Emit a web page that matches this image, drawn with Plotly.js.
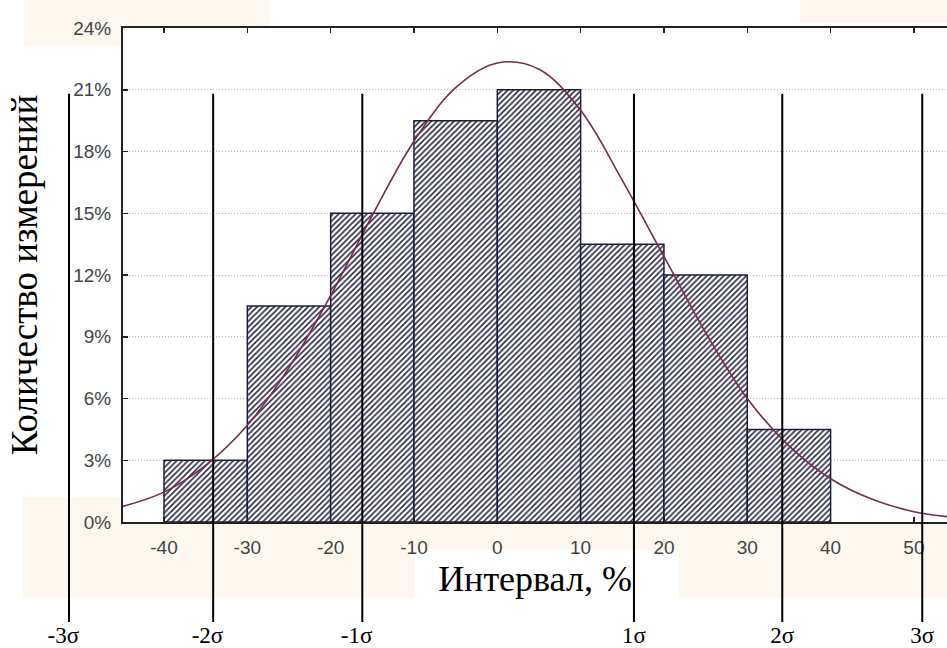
<!DOCTYPE html>
<html><head><meta charset="utf-8">
<script src="https://cdn.plot.ly/plotly-3.0.1.min.js"></script>
<style>html,body{margin:0;padding:0;background:#fff;}#chart{width:947px;height:648px;}</style>
</head><body><div id="chart"></div>
<script>
// ---- data ----
const binLeft = [-40, -30, -20, -10, 0, 10, 20, 30];
const binWidth = 10;
const binPercent = [3.0, 10.5, 15.0, 19.5, 21.0, 13.5, 12.0, 4.5];

const curveX = [-45, -40, -35, -30, -25, -20, -15, -10, -5, 0, 5, 10, 15, 20, 25, 30, 35, 40, 45, 50, 55];
const curveY = [0.75, 1.45, 2.75, 4.7, 7.5, 11.0, 14.9, 18.5, 21.1, 22.3, 22.0, 20.0, 16.6, 12.9, 9.2, 6.0, 3.7, 2.1, 1.1, 0.5, 0.22];

const xTickVals = [-40, -30, -20, -10, 0, 10, 20, 30, 40, 50];
const xTickText = xTickVals.map(v => String(v));
const yTickVals = [0, 3, 6, 9, 12, 15, 18, 21, 24];
const yTickText = yTickVals.map(v => v + '%');

const sigmaX = [-51.4, -34.1, -16.2, 16.4, 34.2, 51.0];
const sigmaLabels = ['-3σ', '-2σ', '-1σ', '1σ', '2σ', '3σ'];
const sigmaLineTop = 20.8;
const sigmaLineBottom = -4.86;

const xTitle = 'Интервал, %';
const yTitle = 'Количество измерений';

// ---- geometry (pixels of the 947x648 page) ----
const W = 947, H = 648;
const pL = 123, pR = 947, pT = 28, pB = 522, sigLabelAxis = 619;
const xRange = [-44.92, 53.97];
const yRange = [0, 24];
const pxX = (pR - pL) / (xRange[1] - xRange[0]);
const pxY = (pB - pT) / (yRange[1] - yRange[0]);
const x2Range = [xRange[0] - pL / pxX, xRange[1] + (W - pR) / pxX];
const y2Range = [yRange[0] - (H - pB) / pxY, yRange[1] + pT / pxY];

// sigma line segments built from the sigma positions
const sx = [], sy = [];
sigmaX.forEach(v => { sx.push(v, v, null); sy.push(sigmaLineTop, sigmaLineBottom, null); });

const traces = [
  {
    type: 'bar', x: binLeft, y: binPercent, width: binWidth, offset: 0,
    xaxis: 'x', yaxis: 'y',
    marker: {
      color: 'white',
      line: {color: '#1d1d3d', width: 1.5},
      pattern: {shape: '/', fgcolor: '#22223f', bgcolor: 'white', size: 4, solidity: 0.38}
    },
    hoverinfo: 'x+y', showlegend: false
  },
  {
    type: 'scatter', mode: 'lines', x: curveX, y: curveY,
    xaxis: 'x', yaxis: 'y',
    line: {color: '#7a2a4c', width: 1.6, shape: 'spline', smoothing: 1},
    showlegend: false
  },
  {
    type: 'scatter', mode: 'lines', x: sx, y: sy,
    xaxis: 'x2', yaxis: 'y2',
    line: {color: '#000000', width: 2},
    showlegend: false, hoverinfo: 'skip'
  }
];

const beige = '#fcf8f0';
function rect(x0, y0, x1, y1) {
  return {type: 'rect', xref: 'paper', yref: 'paper', layer: 'below',
    x0: x0 / W, x1: x1 / W, y0: 1 - y1 / H, y1: 1 - y0 / H,
    fillcolor: beige, line: {width: 0}};
}

const tickFont = {family: 'Liberation Sans, Arial, sans-serif', size: 19, color: '#444'};

const layout = {
  width: W, height: H,
  margin: {l: 0, r: 0, t: 0, b: 0, pad: 0},
  paper_bgcolor: 'white', plot_bgcolor: 'rgba(0,0,0,0)',
  bargap: 0,
  showlegend: false,
  font: {family: 'Liberation Sans, Arial, sans-serif', color: '#333'},
  xaxis: {
    domain: [pL / W, pR / W], range: xRange, anchor: 'y',
    tickmode: 'array', tickvals: xTickVals, ticktext: xTickText, ticks: 'inside', ticklen: 5, tickwidth: 1.5, tickcolor: '#222',
    showline: true, linecolor: '#222', linewidth: 2, mirror: 'ticks',
    showgrid: false, zeroline: false,
    tickfont: tickFont,
    ticklabelstandoff: 7,
    title: {text: xTitle, font: {family: 'Liberation Serif, Times New Roman, serif', size: 36, color: '#000'}, standoff: 9},
    automargin: false
  },
  yaxis: {
    domain: [1 - pB / H, 1 - pT / H], range: yRange, anchor: 'x',
    tickmode: 'array', tickvals: yTickVals, ticktext: yTickText, ticks: 'inside', ticklen: 5, tickwidth: 1.5, tickcolor: '#222',
    showline: true, linecolor: '#222', linewidth: 2, mirror: false,
    showgrid: true, gridcolor: '#b4b4b4', gridwidth: 1, griddash: '1px,2px', zeroline: false,
    tickfont: tickFont,
    ticklabelstandoff: 6,
    title: {text: yTitle, font: {family: 'Liberation Serif, Times New Roman, serif', size: 37, color: '#000'}, standoff: 24},
    automargin: false
  },
  xaxis2: {
    domain: [0, 1], range: x2Range, anchor: 'free', position: 1 - sigLabelAxis / H,
    tickmode: 'array', tickvals: sigmaX, ticktext: sigmaLabels.map(s => s.startsWith('-') ? s + '\u2002' : s),
    ticks: '', showline: false, showgrid: false, zeroline: false,
    tickfont: {family: 'Liberation Serif, Times New Roman, serif', size: 23, color: '#000'},
    ticklabelstandoff: 0, automargin: false
  },
  yaxis2: {
    domain: [0, 1], range: y2Range, anchor: 'x2',
    visible: false, showgrid: false, zeroline: false
  },
  shapes: [
    rect(24, 0, 270, 28),
    rect(24, 28, 123, 45),
    rect(800, 0, 947, 23),
    rect(23, 497, 123, 523),
    rect(23, 523, 947, 550),
    rect(23, 550, 415, 598),
    rect(679, 550, 947, 598)
  ]
};

Plotly.newPlot('chart', traces, layout, {staticPlot: true, displayModeBar: false});
</script>
</body></html>
